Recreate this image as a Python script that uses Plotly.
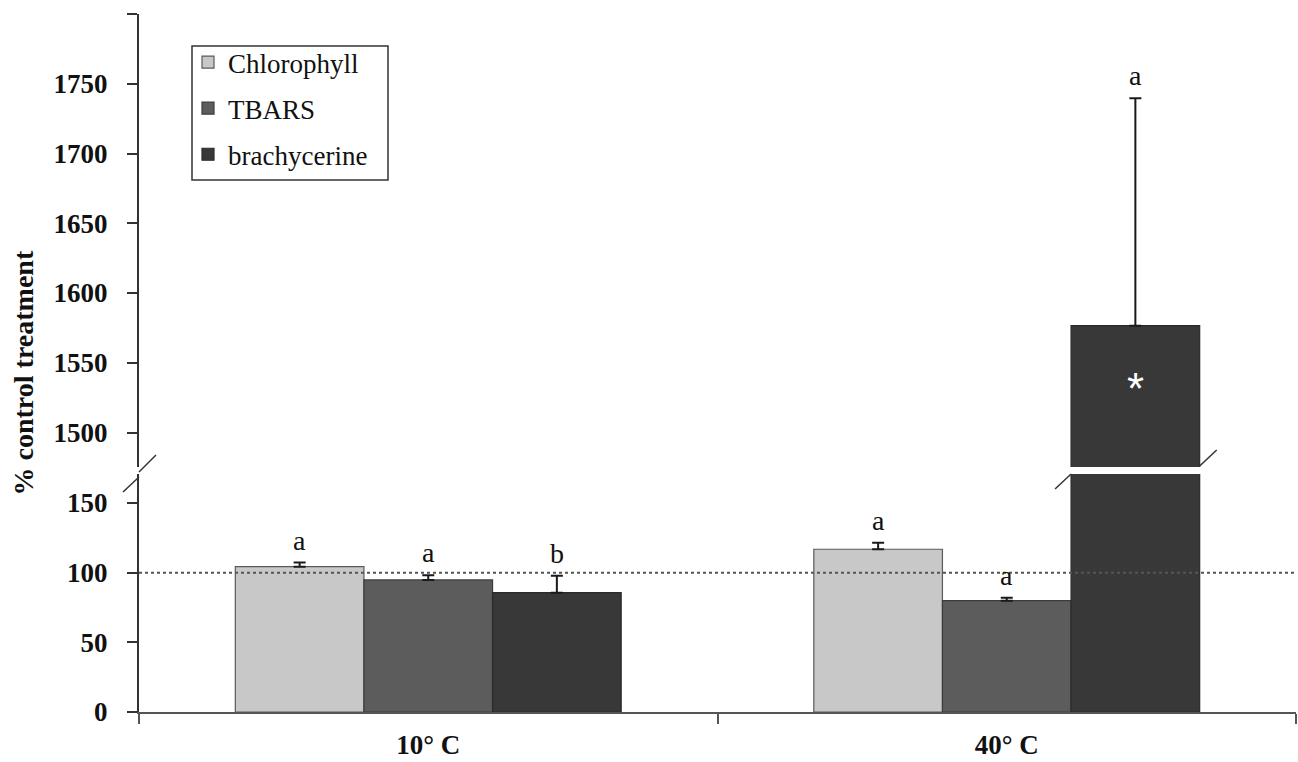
import plotly.graph_objects as go

categories = ["10° C", "40° C"]
series = ["Chlorophyll", "TBARS", "brachycerine"]
means = {
    "Chlorophyll": [104.3, 116.8],
    "TBARS": [94.8, 79.9],
    "brachycerine": [85.6, 1576.6],
}
errors = {
    "Chlorophyll": [2.9, 4.7],
    "TBARS": [3.3, 2.1],
    "brachycerine": [12.2, 163.0],
}
letters = {
    "Chlorophyll": ["a", "a"],
    "TBARS": ["a", "a"],
    "brachycerine": ["b", "a"],
}
star_value = 1536
ref_line = 100
lower_ticks = [0, 50, 100, 150]
upper_ticks = [1500, 1550, 1600, 1650, 1700, 1750, 1800]
upper_ticktext = ["1500", "1550", "1600", "1650", "1700", "1750", ""]

fills = {"Chlorophyll": "#c8c8c8", "TBARS": "#5c5c5c", "brachycerine": "#383838"}
outlines = {"Chlorophyll": "#5a5a5a", "TBARS": "#3c3c3c", "brachycerine": "#2a2a2a"}

LOW_MAX = 170.8
UP_MIN, UP_MAX = 1475.3, 1800
BARGAP = 0.333
FONT = "Liberation Serif"

fig = go.Figure()
for idx, s in enumerate(series):
    for xa, ya, show in (("x", "y", True), ("x2", "y2", False)):
        fig.add_trace(go.Bar(
            x=categories, y=means[s], name=s,
            xaxis=xa, yaxis=ya, showlegend=show, legendgroup=s,
            marker=dict(color=fills[s], line=dict(color=outlines[s], width=1.2)),
            error_y=dict(type="data", array=errors[s], arrayminus=[0, 0], symmetric=False,
                         color="#1a1a1a", thickness=2, width=6),
        ))

w = (1 - BARGAP) / len(series)
annotations = []
for i, s in enumerate(series):
    for j, c in enumerate(categories):
        top = means[s][j] + errors[s][j]
        yr = "y2" if top > LOW_MAX else "y"
        annotations.append(dict(
            x=j + (i - 1) * w, y=top, xref="x", yref=yr, text=letters[s][j],
            showarrow=False, yanchor="bottom", yshift=5,
            font=dict(family=FONT, size=28, color="#111"),
        ))
# asterisk on the tall bar
annotations.append(dict(
    x=1 + w, y=star_value, xref="x2", yref="y2", text="*", showarrow=False,
    yanchor="middle", yshift=-6,
    font=dict(family="Liberation Sans", size=44, color="white"),
))
# y-axis title
annotations.append(dict(
    x=0, y=0.485, xref="paper", yref="paper", xshift=-116, text="<b>% control treatment</b>",
    textangle=-90, showarrow=False, xanchor="center", yanchor="middle",
    font=dict(family=FONT, size=28, color="#111"),
))

PW = 1298 - 139 - 2
PH = 762 - 14 - 50
shapes = [
    dict(type="line", xref="x domain", yref="y", x0=0, x1=1, y0=ref_line, y1=ref_line,
         line=dict(color="#555", width=2, dash="dot"), layer="above"),
    # legend frame
    dict(type="rect", xref="paper", yref="paper",
         x0=(192 - 139) / PW, x1=(388 - 139) / PW, y0=(712 - 180) / PH, y1=(712 - 46) / PH,
         line=dict(color="#333", width=1.5), fillcolor="white", layer="above"),
]
slash = dict(color="#333", width=1.5)
# axis break marks
shapes.append(dict(type="line", xref="paper", yref="y domain", xsizemode="pixel", ysizemode="pixel",
                   xanchor=0, yanchor=1, x0=-16, x1=0, y0=-18, y1=-3, line=slash))
shapes.append(dict(type="line", xref="paper", yref="y2 domain", xsizemode="pixel", ysizemode="pixel",
                   xanchor=0, yanchor=0, x0=0, x1=17, y0=-5, y1=12, line=slash))
# bar break marks
left_edge = 1 + w / 2
right_edge = 1 + 1.5 * w
shapes.append(dict(type="line", xref="x", yref="y domain", xsizemode="pixel", ysizemode="pixel",
                   xanchor=left_edge, yanchor=1, x0=-16, x1=0, y0=-15, y1=0, line=slash))
shapes.append(dict(type="line", xref="x2", yref="y2 domain", xsizemode="pixel", ysizemode="pixel",
                   xanchor=right_edge, yanchor=0, x0=0, x1=17, y0=1, y1=17, line=slash))

tickfont = dict(family=FONT, size=27, color="#111", weight="bold")
yaxis_common = dict(showline=True, linecolor="#333", linewidth=2, ticks="outside", ticklen=10,
                    tickwidth=2, tickcolor="#333", showgrid=False, zeroline=False,
                    tickfont=tickfont, ticklabelstandoff=14)

fig.update_layout(
    width=1298, height=762,
    margin=dict(l=139, r=2, t=14, b=50),
    paper_bgcolor="white", plot_bgcolor="white",
    barmode="group", bargap=BARGAP, bargroupgap=0,
    font=dict(family=FONT, color="#111"),
    xaxis=dict(domain=[0, 1], anchor="y", type="category", range=[-0.5, 1.5],
               tickson="boundaries", ticks="outside", ticklen=10, tickwidth=1.5, tickcolor="#555",
               showline=True, linecolor="#555", linewidth=2, showgrid=False,
               tickfont=tickfont, ticklabelstandoff=8),
    xaxis2=dict(domain=[0, 1], anchor="y2", matches="x", visible=False, type="category"),
    yaxis=dict(domain=[0, 0.341], range=[0, LOW_MAX], tickvals=lower_ticks, **yaxis_common),
    yaxis2=dict(domain=[0.351, 1], range=[UP_MIN, UP_MAX], tickvals=upper_ticks,
                ticktext=upper_ticktext, **yaxis_common),
    legend=dict(x=(188 - 139) / PW, y=(712 - 38) / PH, xanchor="left", yanchor="top",
                borderwidth=0, bgcolor="rgba(0,0,0,0)",
                font=dict(family=FONT, size=27, color="#111"),
                traceorder="grouped", tracegroupgap=8, itemwidth=30),
    annotations=annotations,
    shapes=shapes,
)

fig.write_html("out.html")
